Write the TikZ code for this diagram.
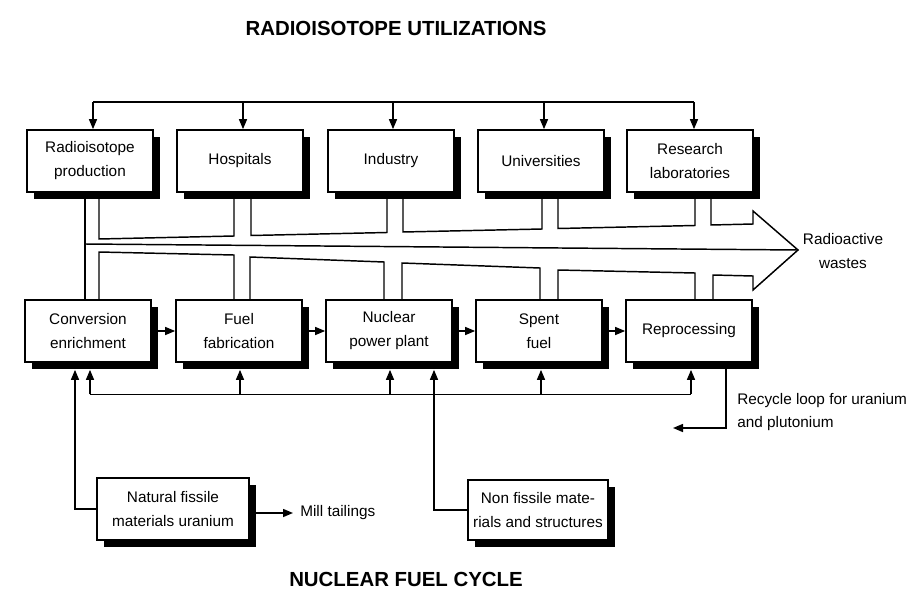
\documentclass[tikz,border=0pt]{standalone}
\usepackage{fontspec}
\setmainfont{Liberation Sans}
\usetikzlibrary{calc,arrows.meta,shadows,backgrounds}
\begin{document}
\begin{tikzpicture}[x=0.75pt,y=-0.75pt,
  box/.style={draw, fill=white, line width=1.3pt, minimum width=94.5pt, minimum height=46.5pt,
    inner sep=0pt, align=center, font=\fontsize{11.5}{18}\selectfont,
    drop shadow={shadow xshift=5.3pt, shadow yshift=-5.3pt, opacity=1, fill=black}},
  conn/.style={line width=1.1pt, line join=miter},
  arr/.style={conn, -{Triangle[length=7.5pt,width=6pt]}},
  lbl/.style={font=\fontsize{11.5}{18}\selectfont, inner sep=0pt},
  ttl/.style={font=\fontsize{15.3}{18}\selectfont\bfseries, inner sep=0pt}]
\useasboundingbox (0,0) rectangle (911,589);

% titles
\node[ttl] (t1) at (396,28) {RADIOISOTOPE UTILIZATIONS};
\node[ttl] (t2) at (406,579) {NUCLEAR FUEL CYCLE};

% top row
\node[box] (rp)   at (90,161)  {Radioisotope\\production};
\node[box] (hosp) at (240,161) {Hospitals};
\node[box] (ind)  at (391,161) {Industry};
\node[box] (univ) at (541,161) {Universities};
\node[box] (res)  at (690,161) {Research\\laboratories};

% bottom row
\node[box] (conv)  at (88,331)  {Conversion\\enrichment};
\node[box] (fab)   at (239,331) {Fuel\\fabrication};
\node[box] (npp)   at (389,331) {Nuclear\\power plant};
\node[box] (spent) at (539,331) {Spent\\fuel};
\node[box] (repro) at (689,331) {Reprocessing};

% lower boxes
\node[box, minimum width=114pt] (nf) at (173,509) {Natural fissile\\materials uranium};
\node[box, minimum width=105pt, minimum height=45pt] (nfm) at (538,510) {Non fissile mate-\\rials and structures};

% labels
\node[lbl, align=center] (waste) at (843,251) {Radioactive\\wastes};
\node[lbl, anchor=west, align=left, font=\fontsize{11.5}{17.3}\selectfont] (recyc) at (737,412) {Recycle loop for uranium\\and plutonium};
\node[lbl, anchor=west] (mill) at (300,513) {Mill tailings};

\coordinate (tip) at (798,250);
\coordinate (recend) at (673,428);

\begin{scope}[on background layer]
\fill[white] (0,0) rectangle (911,589);

% distribution bus to radioisotope users
\draw[conn] ($(rp.north)+(3,-27)$) -- ($(res.north)+(4,-27)$);
\foreach \b/\d in {rp/3,hosp/3,ind/2,univ/3,res/4}
  \draw[arr] ($(\b.north)+(\d,-27)$) -- ($(\b.north)+(\d,0)$);

% fuel cycle chain
\draw[arr] (conv) -- (fab);
\draw[arr] (fab) -- (npp);
\draw[arr] (npp) -- (spent);
\draw[arr] (spent) -- (repro);

% feedback bus
\draw[conn] ($(conv.south)+(2,31.5)$) -- ($(repro.south)+(2,31.5)$);
\foreach \b/\d in {conv/2,fab/1,npp/1,spent/2,repro/2}
  \draw[arr] ($(\b.south)+(\d,31.5)$) -- ($(\b.south)+(\d,7)$);

% inputs
\draw[arr] (nf.west) -| ($(conv.south)+(-13,7)$);
\draw[arr] (nfm.west) -| ($(npp.south)+(45,7)$);
\draw[arr] (nf.east |- mill.west) -- ($(mill.west)+(-7,0)$);

% recycle loop
\draw[arr] ($(repro.south)+(37,0)$) |- (recend);

% waste band: upper half
\draw[conn] ($(rp.south)+(9,0)$) -- (99,239) -- (234,236) -- ($(hosp.south)+(-6,0)$);
\draw[conn] ($(hosp.south)+(11,0)$) -- (251,235.5) -- (387,232.5) -- ($(ind.south)+(-4,0)$);
\draw[conn] ($(ind.south)+(12,0)$) -- (403,232) -- (542,229) -- ($(univ.south)+(1,0)$);
\draw[conn] ($(univ.south)+(17,0)$) -- (558,228.5) -- (695,225.5) -- ($(res.south)+(5,0)$);
\draw[conn] ($(res.south)+(21,0)$) -- (711,225) -- (753,224) -- (753,211) -- (tip)
   -- (753,290) -- (753,276) -- (713,275) -- ($(repro.north)+(24,0)$);
% lower half
\draw[conn] ($(repro.north)+(6,0)$) -- (695,273) -- (558,270) -- ($(spent.north)+(19,0)$);
\draw[conn] ($(spent.north)+(1,0)$) -- (540,268) -- (402,263) -- ($(npp.north)+(13,0)$);
\draw[conn] ($(npp.north)+(-5,0)$) -- (384,262) -- (250,257) -- ($(fab.north)+(11,0)$);
\draw[conn] ($(fab.north)+(-5,0)$) -- (234,255) -- (99,252) -- ($(conv.north)+(11,0)$);
% shared vertical and centre divider
\draw[conn] ($(rp.south)+(-5,0)$) -- ($(conv.north)+(-3,0)$);
\draw[conn] (85,244) -- (tip);
\end{scope}
\end{tikzpicture}
\end{document}
